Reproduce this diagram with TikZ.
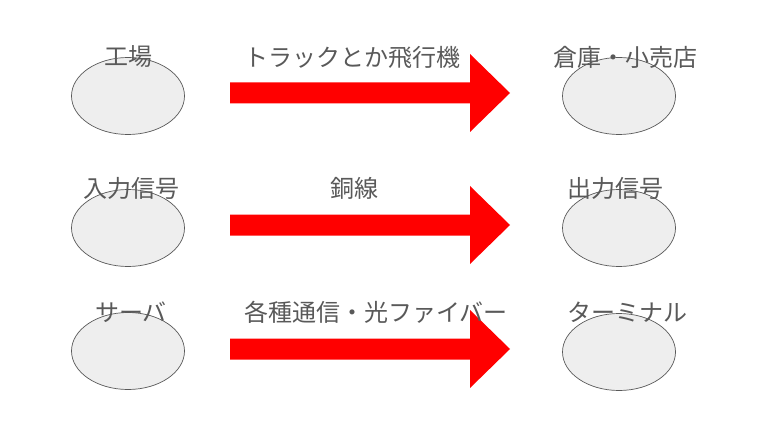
\documentclass[tikz,border=0pt]{standalone}
\usepackage{fontspec}
\setmainfont{Noto Sans CJK JP}
\usetikzlibrary{shapes.geometric}
\definecolor{txtgray}{HTML}{595959}
\definecolor{ovalfill}{HTML}{EEEEEE}
\tikzset{
  oval/.style={ellipse, draw=txtgray, fill=ovalfill, line width=0.7pt,
    minimum width=113pt, minimum height=77pt, inner sep=0pt},
  lbl/.style={text=txtgray, font=\fontsize{24}{28}\selectfont, inner sep=0pt}
}
\begin{document}
\begin{tikzpicture}[x=1pt, y=-1pt]
  \useasboundingbox (0,0) rectangle (767,438);
  % ovals
  \node[oval] (factory) at (128,96) {};
  \node[oval] (store) at (619,96) {};
  \node[oval] (inSig) at (128,228) {};
  \node[oval] (outSig) at (619,228) {};
  \node[oval] (server) at (128,351) {};
  \node[oval] (terminal) at (619,352) {};
  % big red arrows
  \foreach \y in {93,225,349}
    \fill[red] (230,\y-10.5) -- (470,\y-10.5) -- (470,\y-39) -- (510,\y)
      -- (470,\y+39) -- (470,\y+10.5) -- (230,\y+10.5) -- cycle;
  % labels
  \node[lbl] (factoryL) at (128,57) {工場};
  \node[lbl] (route1) at (352,57) {トラックとか飛行機};
  \node[lbl] (storeL) at (625,57) {倉庫・小売店};
  \node[lbl] (inSigL) at (131,188) {入力信号};
  \node[lbl] (route2) at (354,188) {銅線};
  \node[lbl] (outSigL) at (615,188) {出力信号};
  \node[lbl] (serverL) at (131,312) {サーバ};
  \node[lbl] (route3) at (376,312) {各種通信・光ファイバー};
  \node[lbl] (terminalL) at (627,312) {ターミナル};
\end{tikzpicture}
\end{document}
